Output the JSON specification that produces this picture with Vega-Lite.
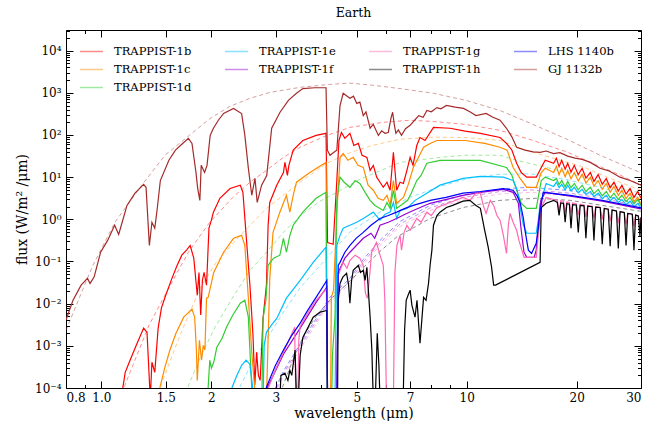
{
  "$schema": "https://vega.github.io/schema/vega-lite/v6.json",
  "width": 575,
  "height": 358,
  "autosize": {"type": "none"},
  "padding": {"left": 66, "top": 30, "right": 31, "bottom": 42},
  "title": {"text": "Earth", "font": "DejaVu Serif", "fontSize": 12.5, "fontWeight": "normal", "color": "black", "offset": 10},
  "config": {
    "view": {"stroke": "black", "strokeWidth": 1},
    "axis": {
      "domain": false, "grid": false, "tickColor": "black", "tickWidth": 1,
      "labelFont": "DejaVu Serif", "labelFontSize": 12, "labelColor": "black",
      "titleFont": "DejaVu Serif", "titleFontSize": 14, "titleFontWeight": "normal", "titleColor": "black"
    },
    "legend": {
      "orient": "none", "legendX": 13, "legendY": 9, "columns": 4, "title": null, "symbolType": "stroke",
      "symbolSize": 529, "symbolStrokeWidth": 1.5, "labelFont": "DejaVu Serif", "labelFontSize": 11.5, "labelColor": "black",
      "labelOffset": 10, "columnPadding": 30, "rowPadding": -4, "labelLimit": 200
    }
  },
  "datasets": {
    "spectra": [
      {"planet":"TRAPPIST-1b","wl":1.13,"logF":-4.3},{"planet":"TRAPPIST-1b","wl":1.162,"logF":-3.63},{"planet":"TRAPPIST-1b","wl":1.198,"logF":-3.34},{"planet":"TRAPPIST-1b","wl":1.245,"logF":-2.99},{"planet":"TRAPPIST-1b","wl":1.305,"logF":-2.58},{"planet":"TRAPPIST-1b","wl":1.333,"logF":-2.68},{"planet":"TRAPPIST-1b","wl":1.355,"logF":-3.93},{"planet":"TRAPPIST-1b","wl":1.36,"logF":-4.3},{"planet":"TRAPPIST-1b","wl":1.375,"logF":-3.39},{"planet":"TRAPPIST-1b","wl":1.4,"logF":-3.63},{"planet":"TRAPPIST-1b","wl":1.415,"logF":-3.1},{"planet":"TRAPPIST-1b","wl":1.43,"logF":-2.58},{"planet":"TRAPPIST-1b","wl":1.46,"logF":-2.1},{"planet":"TRAPPIST-1b","wl":1.5,"logF":-1.8},{"planet":"TRAPPIST-1b","wl":1.56,"logF":-1.4},{"planet":"TRAPPIST-1b","wl":1.61,"logF":-1.1},{"planet":"TRAPPIST-1b","wl":1.66,"logF":-0.85},{"planet":"TRAPPIST-1b","wl":1.71,"logF":-0.73},{"planet":"TRAPPIST-1b","wl":1.75,"logF":-0.62},{"planet":"TRAPPIST-1b","wl":1.79,"logF":-0.92},{"planet":"TRAPPIST-1b","wl":1.83,"logF":-1.8},{"planet":"TRAPPIST-1b","wl":1.85,"logF":-1.26},{"planet":"TRAPPIST-1b","wl":1.87,"logF":-2.27},{"planet":"TRAPPIST-1b","wl":1.89,"logF":-1.45},{"planet":"TRAPPIST-1b","wl":1.91,"logF":-1.26},{"planet":"TRAPPIST-1b","wl":1.94,"logF":-1.56},{"planet":"TRAPPIST-1b","wl":1.97,"logF":-0.21},{"planet":"TRAPPIST-1b","wl":2.0,"logF":-0.02},{"planet":"TRAPPIST-1b","wl":2.026,"logF":0.17},{"planet":"TRAPPIST-1b","wl":2.11,"logF":0.5},{"planet":"TRAPPIST-1b","wl":2.25,"logF":0.73},{"planet":"TRAPPIST-1b","wl":2.4,"logF":0.81},{"planet":"TRAPPIST-1b","wl":2.44,"logF":0.64},{"planet":"TRAPPIST-1b","wl":2.49,"logF":-0.38},{"planet":"TRAPPIST-1b","wl":2.55,"logF":-1.56},{"planet":"TRAPPIST-1b","wl":2.6,"logF":-2.75},{"planet":"TRAPPIST-1b","wl":2.63,"logF":-3.93},{"planet":"TRAPPIST-1b","wl":2.66,"logF":-3.15},{"planet":"TRAPPIST-1b","wl":2.69,"logF":-3.7},{"planet":"TRAPPIST-1b","wl":2.72,"logF":-3.82},{"planet":"TRAPPIST-1b","wl":2.77,"logF":-2.35},{"planet":"TRAPPIST-1b","wl":2.83,"logF":-1.56},{"planet":"TRAPPIST-1b","wl":2.86,"logF":-0.14},{"planet":"TRAPPIST-1b","wl":2.89,"logF":0.4},{"planet":"TRAPPIST-1b","wl":3.02,"logF":0.81},{"planet":"TRAPPIST-1b","wl":3.15,"logF":1.11},{"planet":"TRAPPIST-1b","wl":3.18,"logF":1.35},{"planet":"TRAPPIST-1b","wl":3.23,"logF":1.04},{"planet":"TRAPPIST-1b","wl":3.26,"logF":1.28},{"planet":"TRAPPIST-1b","wl":3.35,"logF":1.64},{"planet":"TRAPPIST-1b","wl":3.56,"logF":1.87},{"planet":"TRAPPIST-1b","wl":3.87,"logF":1.99},{"planet":"TRAPPIST-1b","wl":4.12,"logF":2.04},{"planet":"TRAPPIST-1b","wl":4.16,"logF":-0.55},{"planet":"TRAPPIST-1b","wl":4.31,"logF":-0.59},{"planet":"TRAPPIST-1b","wl":4.41,"logF":0.92},{"planet":"TRAPPIST-1b","wl":4.47,"logF":1.87},{"planet":"TRAPPIST-1b","wl":4.54,"logF":2.06},{"planet":"TRAPPIST-1b","wl":4.64,"logF":1.92},{"planet":"TRAPPIST-1b","wl":4.79,"logF":2.04},{"planet":"TRAPPIST-1b","wl":4.91,"logF":1.75},{"planet":"TRAPPIST-1b","wl":5.05,"logF":1.8},{"planet":"TRAPPIST-1b","wl":5.17,"logF":1.52},{"planet":"TRAPPIST-1b","wl":5.33,"logF":1.47},{"planet":"TRAPPIST-1b","wl":5.44,"logF":1.16},{"planet":"TRAPPIST-1b","wl":5.55,"logF":1.28},{"planet":"TRAPPIST-1b","wl":5.67,"logF":1.0},{"planet":"TRAPPIST-1b","wl":5.79,"logF":0.88},{"planet":"TRAPPIST-1b","wl":5.91,"logF":0.76},{"planet":"TRAPPIST-1b","wl":6.05,"logF":0.88},{"planet":"TRAPPIST-1b","wl":6.17,"logF":0.69},{"planet":"TRAPPIST-1b","wl":6.3,"logF":1.59},{"planet":"TRAPPIST-1b","wl":6.43,"logF":0.69},{"planet":"TRAPPIST-1b","wl":6.57,"logF":0.88},{"planet":"TRAPPIST-1b","wl":6.71,"logF":0.85},{"planet":"TRAPPIST-1b","wl":6.86,"logF":1.16},{"planet":"TRAPPIST-1b","wl":7.0,"logF":1.47},{"planet":"TRAPPIST-1b","wl":7.13,"logF":1.28},{"planet":"TRAPPIST-1b","wl":7.3,"logF":1.75},{"planet":"TRAPPIST-1b","wl":7.45,"logF":1.94},{"planet":"TRAPPIST-1b","wl":7.69,"logF":1.87},{"planet":"TRAPPIST-1b","wl":8.11,"logF":2.18},{"planet":"TRAPPIST-1b","wl":9.0,"logF":2.16},{"planet":"TRAPPIST-1b","wl":9.9,"logF":2.09},{"planet":"TRAPPIST-1b","wl":10.9,"logF":2.04},{"planet":"TRAPPIST-1b","wl":12.34,"logF":1.94},{"planet":"TRAPPIST-1b","wl":12.85,"logF":1.8},{"planet":"TRAPPIST-1b","wl":13.3,"logF":1.64},{"planet":"TRAPPIST-1b","wl":13.7,"logF":1.33},{"planet":"TRAPPIST-1b","wl":14.1,"logF":1.11},{"planet":"TRAPPIST-1b","wl":14.6,"logF":1.0},{"planet":"TRAPPIST-1b","wl":15.5,"logF":1.0},{"planet":"TRAPPIST-1b","wl":16.0,"logF":1.23},{"planet":"TRAPPIST-1b","wl":16.4,"logF":1.4},{"planet":"TRAPPIST-1b","wl":17.3,"logF":1.33},{"planet":"TRAPPIST-1b","wl":17.6,"logF":1.45},{"planet":"TRAPPIST-1b","wl":17.9,"logF":1.25},{"planet":"TRAPPIST-1b","wl":18.2,"logF":1.4},{"planet":"TRAPPIST-1b","wl":18.6,"logF":1.19},{"planet":"TRAPPIST-1b","wl":18.9,"logF":1.33},{"planet":"TRAPPIST-1b","wl":19.3,"logF":1.12},{"planet":"TRAPPIST-1b","wl":19.7,"logF":1.28},{"planet":"TRAPPIST-1b","wl":20.2,"logF":1.06},{"planet":"TRAPPIST-1b","wl":20.7,"logF":1.21},{"planet":"TRAPPIST-1b","wl":21.2,"logF":0.98},{"planet":"TRAPPIST-1b","wl":21.8,"logF":1.11},{"planet":"TRAPPIST-1b","wl":22.3,"logF":0.9},{"planet":"TRAPPIST-1b","wl":22.9,"logF":1.06},{"planet":"TRAPPIST-1b","wl":23.5,"logF":0.83},{"planet":"TRAPPIST-1b","wl":24.1,"logF":0.97},{"planet":"TRAPPIST-1b","wl":24.7,"logF":0.75},{"planet":"TRAPPIST-1b","wl":25.3,"logF":0.88},{"planet":"TRAPPIST-1b","wl":26.0,"logF":0.67},{"planet":"TRAPPIST-1b","wl":26.6,"logF":0.81},{"planet":"TRAPPIST-1b","wl":27.3,"logF":0.6},{"planet":"TRAPPIST-1b","wl":28.0,"logF":0.73},{"planet":"TRAPPIST-1b","wl":28.7,"logF":0.52},{"planet":"TRAPPIST-1b","wl":29.4,"logF":0.66},{"planet":"TRAPPIST-1b","wl":30,"logF":0.5},

      {"planet":"TRAPPIST-1c","wl":1.44,"logF":-4.3},{"planet":"TRAPPIST-1c","wl":1.447,"logF":-3.98},{"planet":"TRAPPIST-1c","wl":1.49,"logF":-3.53},{"planet":"TRAPPIST-1c","wl":1.54,"logF":-3.1},{"planet":"TRAPPIST-1c","wl":1.6,"logF":-2.7},{"planet":"TRAPPIST-1c","wl":1.68,"logF":-2.32},{"planet":"TRAPPIST-1c","wl":1.77,"logF":-2.13},{"planet":"TRAPPIST-1c","wl":1.8,"logF":-2.32},{"planet":"TRAPPIST-1c","wl":1.82,"logF":-3.1},{"planet":"TRAPPIST-1c","wl":1.83,"logF":-3.82},{"planet":"TRAPPIST-1c","wl":1.855,"logF":-2.87},{"planet":"TRAPPIST-1c","wl":1.88,"logF":-3.34},{"planet":"TRAPPIST-1c","wl":1.9,"logF":-2.99},{"planet":"TRAPPIST-1c","wl":1.92,"logF":-3.1},{"planet":"TRAPPIST-1c","wl":1.94,"logF":-1.87},{"planet":"TRAPPIST-1c","wl":1.96,"logF":-1.85},{"planet":"TRAPPIST-1c","wl":2.03,"logF":-1.26},{"planet":"TRAPPIST-1c","wl":2.16,"logF":-0.78},{"planet":"TRAPPIST-1c","wl":2.3,"logF":-0.45},{"planet":"TRAPPIST-1c","wl":2.42,"logF":-0.38},{"planet":"TRAPPIST-1c","wl":2.47,"logF":-0.62},{"planet":"TRAPPIST-1c","wl":2.525,"logF":-1.87},{"planet":"TRAPPIST-1c","wl":2.58,"logF":-3.15},{"planet":"TRAPPIST-1c","wl":2.63,"logF":-4.05},{"planet":"TRAPPIST-1c","wl":2.69,"logF":-4.3},{"planet":"TRAPPIST-1c","wl":2.83,"logF":-4.3},{"planet":"TRAPPIST-1c","wl":2.89,"logF":-1.4},{"planet":"TRAPPIST-1c","wl":2.95,"logF":-0.31},{"planet":"TRAPPIST-1c","wl":3.08,"logF":0.17},{"planet":"TRAPPIST-1c","wl":3.21,"logF":0.57},{"planet":"TRAPPIST-1c","wl":3.28,"logF":0.17},{"planet":"TRAPPIST-1c","wl":3.35,"logF":0.57},{"planet":"TRAPPIST-1c","wl":3.42,"logF":0.88},{"planet":"TRAPPIST-1c","wl":3.72,"logF":1.11},{"planet":"TRAPPIST-1c","wl":4.12,"logF":1.35},{"planet":"TRAPPIST-1c","wl":4.155,"logF":-4.3},{"planet":"TRAPPIST-1c","wl":4.24,"logF":-4.3},{"planet":"TRAPPIST-1c","wl":4.26,"logF":-1.85},{"planet":"TRAPPIST-1c","wl":4.32,"logF":-1.68},{"planet":"TRAPPIST-1c","wl":4.41,"logF":0.14},{"planet":"TRAPPIST-1c","wl":4.5,"logF":1.47},{"planet":"TRAPPIST-1c","wl":4.59,"logF":1.56},{"planet":"TRAPPIST-1c","wl":4.73,"logF":1.4},{"planet":"TRAPPIST-1c","wl":4.89,"logF":1.47},{"planet":"TRAPPIST-1c","wl":5.04,"logF":1.28},{"planet":"TRAPPIST-1c","wl":5.21,"logF":1.23},{"planet":"TRAPPIST-1c","wl":5.37,"logF":0.81},{"planet":"TRAPPIST-1c","wl":5.55,"logF":0.69},{"planet":"TRAPPIST-1c","wl":5.72,"logF":0.5},{"planet":"TRAPPIST-1c","wl":5.91,"logF":0.45},{"planet":"TRAPPIST-1c","wl":6.05,"logF":0.57},{"planet":"TRAPPIST-1c","wl":6.17,"logF":0.33},{"planet":"TRAPPIST-1c","wl":6.3,"logF":0.92},{"planet":"TRAPPIST-1c","wl":6.43,"logF":0.38},{"planet":"TRAPPIST-1c","wl":6.71,"logF":0.52},{"planet":"TRAPPIST-1c","wl":6.91,"logF":0.81},{"planet":"TRAPPIST-1c","wl":7.14,"logF":1.23},{"planet":"TRAPPIST-1c","wl":7.36,"logF":1.45},{"planet":"TRAPPIST-1c","wl":7.62,"logF":1.71},{"planet":"TRAPPIST-1c","wl":7.94,"logF":1.8},{"planet":"TRAPPIST-1c","wl":8.28,"logF":1.87},{"planet":"TRAPPIST-1c","wl":9.9,"logF":1.87},{"planet":"TRAPPIST-1c","wl":11.2,"logF":1.8},{"planet":"TRAPPIST-1c","wl":12.34,"logF":1.71},{"planet":"TRAPPIST-1c","wl":12.9,"logF":1.64},{"planet":"TRAPPIST-1c","wl":13.4,"logF":1.23},{"planet":"TRAPPIST-1c","wl":14.0,"logF":0.97},{"planet":"TRAPPIST-1c","wl":14.6,"logF":0.76},{"planet":"TRAPPIST-1c","wl":15.5,"logF":0.76},{"planet":"TRAPPIST-1c","wl":16.0,"logF":1.11},{"planet":"TRAPPIST-1c","wl":16.4,"logF":1.21},{"planet":"TRAPPIST-1c","wl":17.3,"logF":1.11},{"planet":"TRAPPIST-1c","wl":17.6,"logF":1.26},{"planet":"TRAPPIST-1c","wl":17.9,"logF":1.06},{"planet":"TRAPPIST-1c","wl":18.2,"logF":1.21},{"planet":"TRAPPIST-1c","wl":18.6,"logF":1.01},{"planet":"TRAPPIST-1c","wl":18.9,"logF":1.16},{"planet":"TRAPPIST-1c","wl":19.3,"logF":0.96},{"planet":"TRAPPIST-1c","wl":19.7,"logF":1.11},{"planet":"TRAPPIST-1c","wl":20.2,"logF":0.91},{"planet":"TRAPPIST-1c","wl":20.7,"logF":1.07},{"planet":"TRAPPIST-1c","wl":21.2,"logF":0.86},{"planet":"TRAPPIST-1c","wl":21.8,"logF":1.0},{"planet":"TRAPPIST-1c","wl":22.3,"logF":0.79},{"planet":"TRAPPIST-1c","wl":22.9,"logF":0.92},{"planet":"TRAPPIST-1c","wl":23.5,"logF":0.71},{"planet":"TRAPPIST-1c","wl":24.1,"logF":0.85},{"planet":"TRAPPIST-1c","wl":24.7,"logF":0.64},{"planet":"TRAPPIST-1c","wl":25.3,"logF":0.78},{"planet":"TRAPPIST-1c","wl":26.0,"logF":0.57},{"planet":"TRAPPIST-1c","wl":26.6,"logF":0.69},{"planet":"TRAPPIST-1c","wl":27.3,"logF":0.49},{"planet":"TRAPPIST-1c","wl":28.0,"logF":0.62},{"planet":"TRAPPIST-1c","wl":28.7,"logF":0.42},{"planet":"TRAPPIST-1c","wl":29.4,"logF":0.52},{"planet":"TRAPPIST-1c","wl":30,"logF":0.36},

      {"planet":"TRAPPIST-1d","wl":1.95,"logF":-4.3},{"planet":"TRAPPIST-1d","wl":1.96,"logF":-3.98},{"planet":"TRAPPIST-1d","wl":1.98,"logF":-3.34},{"planet":"TRAPPIST-1d","wl":2.0,"logF":-3.53},{"planet":"TRAPPIST-1d","wl":2.03,"logF":-3.39},{"planet":"TRAPPIST-1d","wl":2.07,"logF":-3.03},{"planet":"TRAPPIST-1d","wl":2.14,"logF":-2.82},{"planet":"TRAPPIST-1d","wl":2.2,"logF":-2.56},{"planet":"TRAPPIST-1d","wl":2.29,"logF":-2.27},{"planet":"TRAPPIST-1d","wl":2.4,"logF":-1.99},{"planet":"TRAPPIST-1d","wl":2.47,"logF":-1.92},{"planet":"TRAPPIST-1d","wl":2.525,"logF":-2.32},{"planet":"TRAPPIST-1d","wl":2.55,"logF":-3.1},{"planet":"TRAPPIST-1d","wl":2.59,"logF":-4.3},{"planet":"TRAPPIST-1d","wl":2.75,"logF":-4.3},{"planet":"TRAPPIST-1d","wl":2.77,"logF":-2.35},{"planet":"TRAPPIST-1d","wl":2.82,"logF":-1.92},{"planet":"TRAPPIST-1d","wl":2.86,"logF":-1.09},{"planet":"TRAPPIST-1d","wl":2.96,"logF":-0.92},{"planet":"TRAPPIST-1d","wl":3.08,"logF":-0.85},{"planet":"TRAPPIST-1d","wl":3.15,"logF":-0.45},{"planet":"TRAPPIST-1d","wl":3.21,"logF":-0.78},{"planet":"TRAPPIST-1d","wl":3.28,"logF":-0.38},{"planet":"TRAPPIST-1d","wl":3.35,"logF":-0.14},{"planet":"TRAPPIST-1d","wl":3.56,"logF":0.17},{"planet":"TRAPPIST-1d","wl":3.87,"logF":0.5},{"planet":"TRAPPIST-1d","wl":4.12,"logF":0.64},{"planet":"TRAPPIST-1d","wl":4.155,"logF":-4.3},{"planet":"TRAPPIST-1d","wl":4.27,"logF":-4.3},{"planet":"TRAPPIST-1d","wl":4.29,"logF":-3.22},{"planet":"TRAPPIST-1d","wl":4.36,"logF":-2.32},{"planet":"TRAPPIST-1d","wl":4.41,"logF":0.45},{"planet":"TRAPPIST-1d","wl":4.5,"logF":1.0},{"planet":"TRAPPIST-1d","wl":4.62,"logF":0.88},{"planet":"TRAPPIST-1d","wl":4.79,"logF":0.76},{"planet":"TRAPPIST-1d","wl":4.95,"logF":0.92},{"planet":"TRAPPIST-1d","wl":5.1,"logF":0.85},{"planet":"TRAPPIST-1d","wl":5.27,"logF":0.64},{"planet":"TRAPPIST-1d","wl":5.44,"logF":0.45},{"planet":"TRAPPIST-1d","wl":5.61,"logF":0.33},{"planet":"TRAPPIST-1d","wl":5.91,"logF":0.21},{"planet":"TRAPPIST-1d","wl":6.05,"logF":0.4},{"planet":"TRAPPIST-1d","wl":6.17,"logF":0.26},{"planet":"TRAPPIST-1d","wl":6.3,"logF":0.69},{"planet":"TRAPPIST-1d","wl":6.43,"logF":0.26},{"planet":"TRAPPIST-1d","wl":6.89,"logF":0.45},{"planet":"TRAPPIST-1d","wl":7.05,"logF":0.62},{"planet":"TRAPPIST-1d","wl":7.3,"logF":0.92},{"planet":"TRAPPIST-1d","wl":7.5,"logF":1.04},{"planet":"TRAPPIST-1d","wl":7.78,"logF":1.33},{"planet":"TRAPPIST-1d","wl":8.45,"logF":1.4},{"planet":"TRAPPIST-1d","wl":10.9,"logF":1.4},{"planet":"TRAPPIST-1d","wl":12.85,"logF":1.23},{"planet":"TRAPPIST-1d","wl":13.3,"logF":1.04},{"planet":"TRAPPIST-1d","wl":13.7,"logF":0.69},{"planet":"TRAPPIST-1d","wl":14.1,"logF":0.38},{"planet":"TRAPPIST-1d","wl":14.6,"logF":0.26},{"planet":"TRAPPIST-1d","wl":15.5,"logF":0.26},{"planet":"TRAPPIST-1d","wl":16.0,"logF":0.92},{"planet":"TRAPPIST-1d","wl":16.4,"logF":1.0},{"planet":"TRAPPIST-1d","wl":17.3,"logF":0.92},{"planet":"TRAPPIST-1d","wl":17.6,"logF":0.97},{"planet":"TRAPPIST-1d","wl":17.9,"logF":0.82},{"planet":"TRAPPIST-1d","wl":18.2,"logF":0.92},{"planet":"TRAPPIST-1d","wl":18.6,"logF":0.77},{"planet":"TRAPPIST-1d","wl":18.9,"logF":0.9},{"planet":"TRAPPIST-1d","wl":19.3,"logF":0.75},{"planet":"TRAPPIST-1d","wl":19.7,"logF":0.85},{"planet":"TRAPPIST-1d","wl":20.2,"logF":0.7},{"planet":"TRAPPIST-1d","wl":20.7,"logF":0.81},{"planet":"TRAPPIST-1d","wl":21.2,"logF":0.66},{"planet":"TRAPPIST-1d","wl":21.8,"logF":0.76},{"planet":"TRAPPIST-1d","wl":22.3,"logF":0.61},{"planet":"TRAPPIST-1d","wl":22.9,"logF":0.71},{"planet":"TRAPPIST-1d","wl":23.5,"logF":0.56},{"planet":"TRAPPIST-1d","wl":24.1,"logF":0.66},{"planet":"TRAPPIST-1d","wl":24.7,"logF":0.51},{"planet":"TRAPPIST-1d","wl":25.3,"logF":0.62},{"planet":"TRAPPIST-1d","wl":26.0,"logF":0.47},{"planet":"TRAPPIST-1d","wl":26.6,"logF":0.57},{"planet":"TRAPPIST-1d","wl":27.3,"logF":0.42},{"planet":"TRAPPIST-1d","wl":28.0,"logF":0.52},{"planet":"TRAPPIST-1d","wl":28.7,"logF":0.37},{"planet":"TRAPPIST-1d","wl":29.4,"logF":0.47},{"planet":"TRAPPIST-1d","wl":30,"logF":0.32},

      {"planet":"TRAPPIST-1e","wl":2.27,"logF":-4.3},{"planet":"TRAPPIST-1e","wl":2.28,"logF":-3.98},{"planet":"TRAPPIST-1e","wl":2.35,"logF":-3.7},{"planet":"TRAPPIST-1e","wl":2.42,"logF":-3.46},{"planet":"TRAPPIST-1e","wl":2.49,"logF":-3.34},{"planet":"TRAPPIST-1e","wl":2.55,"logF":-3.44},{"planet":"TRAPPIST-1e","wl":2.59,"logF":-3.93},{"planet":"TRAPPIST-1e","wl":2.61,"logF":-4.3},{"planet":"TRAPPIST-1e","wl":2.77,"logF":-4.3},{"planet":"TRAPPIST-1e","wl":2.79,"logF":-2.99},{"planet":"TRAPPIST-1e","wl":2.83,"logF":-2.68},{"planet":"TRAPPIST-1e","wl":2.92,"logF":-2.51},{"planet":"TRAPPIST-1e","wl":3.02,"logF":-2.35},{"planet":"TRAPPIST-1e","wl":3.21,"logF":-1.87},{"planet":"TRAPPIST-1e","wl":3.5,"logF":-1.45},{"planet":"TRAPPIST-1e","wl":3.8,"logF":-1.02},{"planet":"TRAPPIST-1e","wl":4.12,"logF":-0.66},{"planet":"TRAPPIST-1e","wl":4.155,"logF":-4.3},{"planet":"TRAPPIST-1e","wl":4.36,"logF":-4.3},{"planet":"TRAPPIST-1e","wl":4.41,"logF":-0.62},{"planet":"TRAPPIST-1e","wl":4.5,"logF":-0.38},{"planet":"TRAPPIST-1e","wl":4.59,"logF":-0.21},{"planet":"TRAPPIST-1e","wl":4.79,"logF":-0.14},{"planet":"TRAPPIST-1e","wl":5.0,"logF":-0.07},{"planet":"TRAPPIST-1e","wl":5.21,"logF":0.02},{"planet":"TRAPPIST-1e","wl":5.37,"logF":0.09},{"planet":"TRAPPIST-1e","wl":5.55,"logF":0.17},{"planet":"TRAPPIST-1e","wl":5.79,"logF":-0.02},{"planet":"TRAPPIST-1e","wl":5.98,"logF":0.12},{"planet":"TRAPPIST-1e","wl":6.17,"logF":0.17},{"planet":"TRAPPIST-1e","wl":6.3,"logF":0.4},{"planet":"TRAPPIST-1e","wl":6.43,"logF":0.02},{"planet":"TRAPPIST-1e","wl":6.57,"logF":0.21},{"planet":"TRAPPIST-1e","wl":6.86,"logF":0.26},{"planet":"TRAPPIST-1e","wl":7.22,"logF":0.45},{"planet":"TRAPPIST-1e","wl":7.62,"logF":0.57},{"planet":"TRAPPIST-1e","wl":8.45,"logF":0.81},{"planet":"TRAPPIST-1e","wl":9.77,"logF":0.97},{"planet":"TRAPPIST-1e","wl":10.9,"logF":1.02},{"planet":"TRAPPIST-1e","wl":12.6,"logF":1.0},{"planet":"TRAPPIST-1e","wl":13.4,"logF":0.92},{"planet":"TRAPPIST-1e","wl":13.75,"logF":0.69},{"planet":"TRAPPIST-1e","wl":14.0,"logF":0.28},{"planet":"TRAPPIST-1e","wl":14.3,"logF":-0.14},{"planet":"TRAPPIST-1e","wl":14.6,"logF":-0.33},{"planet":"TRAPPIST-1e","wl":15.5,"logF":-0.33},{"planet":"TRAPPIST-1e","wl":15.7,"logF":-0.02},{"planet":"TRAPPIST-1e","wl":15.9,"logF":0.38},{"planet":"TRAPPIST-1e","wl":16.5,"logF":0.85},{"planet":"TRAPPIST-1e","wl":17.3,"logF":0.78},{"planet":"TRAPPIST-1e","wl":17.6,"logF":0.88},{"planet":"TRAPPIST-1e","wl":17.9,"logF":0.75},{"planet":"TRAPPIST-1e","wl":18.2,"logF":0.83},{"planet":"TRAPPIST-1e","wl":18.6,"logF":0.7},{"planet":"TRAPPIST-1e","wl":18.9,"logF":0.81},{"planet":"TRAPPIST-1e","wl":19.3,"logF":0.68},{"planet":"TRAPPIST-1e","wl":19.7,"logF":0.76},{"planet":"TRAPPIST-1e","wl":20.2,"logF":0.63},{"planet":"TRAPPIST-1e","wl":20.7,"logF":0.71},{"planet":"TRAPPIST-1e","wl":21.2,"logF":0.59},{"planet":"TRAPPIST-1e","wl":21.8,"logF":0.66},{"planet":"TRAPPIST-1e","wl":22.3,"logF":0.54},{"planet":"TRAPPIST-1e","wl":22.9,"logF":0.62},{"planet":"TRAPPIST-1e","wl":23.5,"logF":0.49},{"planet":"TRAPPIST-1e","wl":24.1,"logF":0.57},{"planet":"TRAPPIST-1e","wl":24.7,"logF":0.44},{"planet":"TRAPPIST-1e","wl":25.3,"logF":0.52},{"planet":"TRAPPIST-1e","wl":26.0,"logF":0.4},{"planet":"TRAPPIST-1e","wl":26.6,"logF":0.47},{"planet":"TRAPPIST-1e","wl":27.3,"logF":0.35},{"planet":"TRAPPIST-1e","wl":28.0,"logF":0.43},{"planet":"TRAPPIST-1e","wl":28.7,"logF":0.3},{"planet":"TRAPPIST-1e","wl":29.4,"logF":0.38},{"planet":"TRAPPIST-1e","wl":30,"logF":0.26},

      {"planet":"TRAPPIST-1f","wl":2.81,"logF":-4.3},{"planet":"TRAPPIST-1f","wl":2.85,"logF":-3.98},{"planet":"TRAPPIST-1f","wl":3.15,"logF":-3.2},{"planet":"TRAPPIST-1f","wl":3.5,"logF":-2.58},{"planet":"TRAPPIST-1f","wl":3.87,"logF":-1.97},{"planet":"TRAPPIST-1f","wl":4.14,"logF":-1.61},{"planet":"TRAPPIST-1f","wl":4.16,"logF":-4.3},{"planet":"TRAPPIST-1f","wl":4.41,"logF":-4.3},{"planet":"TRAPPIST-1f","wl":4.45,"logF":-1.26},{"planet":"TRAPPIST-1f","wl":4.64,"logF":-0.92},{"planet":"TRAPPIST-1f","wl":4.79,"logF":-0.78},{"planet":"TRAPPIST-1f","wl":5.21,"logF":-0.45},{"planet":"TRAPPIST-1f","wl":5.47,"logF":-0.33},{"planet":"TRAPPIST-1f","wl":5.6,"logF":-0.45},{"planet":"TRAPPIST-1f","wl":5.79,"logF":-0.14},{"planet":"TRAPPIST-1f","wl":6.1,"logF":-0.07},{"planet":"TRAPPIST-1f","wl":6.43,"logF":0.02},{"planet":"TRAPPIST-1f","wl":6.78,"logF":0.12},{"planet":"TRAPPIST-1f","wl":7.14,"logF":0.21},{"planet":"TRAPPIST-1f","wl":7.94,"logF":0.38},{"planet":"TRAPPIST-1f","wl":9.77,"logF":0.57},{"planet":"TRAPPIST-1f","wl":10.9,"logF":0.64},{"planet":"TRAPPIST-1f","wl":12.6,"logF":0.71},{"planet":"TRAPPIST-1f","wl":13.4,"logF":0.64},{"planet":"TRAPPIST-1f","wl":13.85,"logF":0.38},{"planet":"TRAPPIST-1f","wl":14.1,"logF":-0.26},{"planet":"TRAPPIST-1f","wl":14.35,"logF":-0.78},{"planet":"TRAPPIST-1f","wl":14.6,"logF":-0.9},{"planet":"TRAPPIST-1f","wl":15.3,"logF":-0.9},{"planet":"TRAPPIST-1f","wl":15.5,"logF":-0.73},{"planet":"TRAPPIST-1f","wl":15.7,"logF":-0.14},{"planet":"TRAPPIST-1f","wl":15.95,"logF":0.45},{"planet":"TRAPPIST-1f","wl":16.4,"logF":0.64},{"planet":"TRAPPIST-1f","wl":19.2,"logF":0.55},{"planet":"TRAPPIST-1f","wl":23.5,"logF":0.43},{"planet":"TRAPPIST-1f","wl":30,"logF":0.25},

      {"planet":"TRAPPIST-1g","wl":2.81,"logF":-4.3},{"planet":"TRAPPIST-1g","wl":2.85,"logF":-4.05},{"planet":"TRAPPIST-1g","wl":2.99,"logF":-3.58},{"planet":"TRAPPIST-1g","wl":3.15,"logF":-3.15},{"planet":"TRAPPIST-1g","wl":3.28,"logF":-2.82},{"planet":"TRAPPIST-1g","wl":3.38,"logF":-2.56},{"planet":"TRAPPIST-1g","wl":3.4,"logF":-3.82},{"planet":"TRAPPIST-1g","wl":3.42,"logF":-4.3},{"planet":"TRAPPIST-1g","wl":3.45,"logF":-4.3},{"planet":"TRAPPIST-1g","wl":3.47,"logF":-2.87},{"planet":"TRAPPIST-1g","wl":3.5,"logF":-2.54},{"planet":"TRAPPIST-1g","wl":3.67,"logF":-2.23},{"planet":"TRAPPIST-1g","wl":3.87,"logF":-1.92},{"planet":"TRAPPIST-1g","wl":4.14,"logF":-1.64},{"planet":"TRAPPIST-1g","wl":4.16,"logF":-4.3},{"planet":"TRAPPIST-1g","wl":4.41,"logF":-4.3},{"planet":"TRAPPIST-1g","wl":4.45,"logF":-1.33},{"planet":"TRAPPIST-1g","wl":4.59,"logF":-1.02},{"planet":"TRAPPIST-1g","wl":4.7,"logF":-1.16},{"planet":"TRAPPIST-1g","wl":4.79,"logF":-0.97},{"planet":"TRAPPIST-1g","wl":4.95,"logF":-0.85},{"planet":"TRAPPIST-1g","wl":5.1,"logF":-0.92},{"planet":"TRAPPIST-1g","wl":5.21,"logF":-1.09},{"planet":"TRAPPIST-1g","wl":5.28,"logF":-1.75},{"planet":"TRAPPIST-1g","wl":5.35,"logF":-1.87},{"planet":"TRAPPIST-1g","wl":5.44,"logF":-1.21},{"planet":"TRAPPIST-1g","wl":5.49,"logF":-0.78},{"planet":"TRAPPIST-1g","wl":5.66,"logF":-0.55},{"planet":"TRAPPIST-1g","wl":5.79,"logF":-0.85},{"planet":"TRAPPIST-1g","wl":5.91,"logF":-1.09},{"planet":"TRAPPIST-1g","wl":5.97,"logF":-1.92},{"planet":"TRAPPIST-1g","wl":6.03,"logF":-4.3},{"planet":"TRAPPIST-1g","wl":6.3,"logF":-4.3},{"planet":"TRAPPIST-1g","wl":6.36,"logF":-1.26},{"planet":"TRAPPIST-1g","wl":6.44,"logF":-0.62},{"planet":"TRAPPIST-1g","wl":6.57,"logF":-0.38},{"planet":"TRAPPIST-1g","wl":6.63,"logF":-0.73},{"planet":"TRAPPIST-1g","wl":6.74,"logF":-0.31},{"planet":"TRAPPIST-1g","wl":6.86,"logF":-0.14},{"planet":"TRAPPIST-1g","wl":7.0,"logF":-0.26},{"planet":"TRAPPIST-1g","wl":7.3,"logF":0.02},{"planet":"TRAPPIST-1g","wl":7.5,"logF":-0.07},{"planet":"TRAPPIST-1g","wl":7.78,"logF":0.17},{"planet":"TRAPPIST-1g","wl":8.0,"logF":0.09},{"planet":"TRAPPIST-1g","wl":8.29,"logF":0.28},{"planet":"TRAPPIST-1g","wl":9.0,"logF":0.4},{"planet":"TRAPPIST-1g","wl":9.77,"logF":0.52},{"planet":"TRAPPIST-1g","wl":10.2,"logF":0.45},{"planet":"TRAPPIST-1g","wl":10.6,"logF":0.62},{"planet":"TRAPPIST-1g","wl":10.9,"logF":0.62},{"planet":"TRAPPIST-1g","wl":11.1,"logF":0.33},{"planet":"TRAPPIST-1g","wl":11.3,"logF":0.14},{"planet":"TRAPPIST-1g","wl":11.6,"logF":0.45},{"planet":"TRAPPIST-1g","wl":11.85,"logF":0.33},{"planet":"TRAPPIST-1g","wl":12.1,"logF":0.09},{"planet":"TRAPPIST-1g","wl":12.34,"logF":-0.02},{"planet":"TRAPPIST-1g","wl":12.6,"logF":-0.38},{"planet":"TRAPPIST-1g","wl":12.85,"logF":-0.81},{"planet":"TRAPPIST-1g","wl":13.0,"logF":-0.14},{"planet":"TRAPPIST-1g","wl":13.14,"logF":0.14},{"planet":"TRAPPIST-1g","wl":13.4,"logF":-0.07},{"planet":"TRAPPIST-1g","wl":13.7,"logF":-0.26},{"planet":"TRAPPIST-1g","wl":13.9,"logF":-0.5},{"planet":"TRAPPIST-1g","wl":14.35,"logF":-0.9},{"planet":"TRAPPIST-1g","wl":15.5,"logF":-0.9},{"planet":"TRAPPIST-1g","wl":15.7,"logF":-0.38},{"planet":"TRAPPIST-1g","wl":16.0,"logF":0.28},{"planet":"TRAPPIST-1g","wl":16.5,"logF":0.52},{"planet":"TRAPPIST-1g","wl":17.3,"logF":0.47},{"planet":"TRAPPIST-1g","wl":17.7,"logF":0.45},{"planet":"TRAPPIST-1g","wl":17.9,"logF":0.2},{"planet":"TRAPPIST-1g","wl":18.1,"logF":0.44},{"planet":"TRAPPIST-1g","wl":18.4,"logF":0.43},{"planet":"TRAPPIST-1g","wl":18.6,"logF":0.16},{"planet":"TRAPPIST-1g","wl":18.8,"logF":0.41},{"planet":"TRAPPIST-1g","wl":19.1,"logF":0.4},{"planet":"TRAPPIST-1g","wl":19.3,"logF":0.14},{"planet":"TRAPPIST-1g","wl":19.5,"logF":0.39},{"planet":"TRAPPIST-1g","wl":19.95,"logF":0.37},{"planet":"TRAPPIST-1g","wl":20.2,"logF":0.1},{"planet":"TRAPPIST-1g","wl":20.45,"logF":0.36},{"planet":"TRAPPIST-1g","wl":20.95,"logF":0.34},{"planet":"TRAPPIST-1g","wl":21.2,"logF":0.06},{"planet":"TRAPPIST-1g","wl":21.45,"logF":0.33},{"planet":"TRAPPIST-1g","wl":22.05,"logF":0.31},{"planet":"TRAPPIST-1g","wl":22.3,"logF":0.02},{"planet":"TRAPPIST-1g","wl":22.55,"logF":0.3},{"planet":"TRAPPIST-1g","wl":23.2,"logF":0.28},{"planet":"TRAPPIST-1g","wl":23.5,"logF":0.0},{"planet":"TRAPPIST-1g","wl":23.8,"logF":0.26},{"planet":"TRAPPIST-1g","wl":24.4,"logF":0.24},{"planet":"TRAPPIST-1g","wl":24.7,"logF":-0.05},{"planet":"TRAPPIST-1g","wl":25.0,"logF":0.22},{"planet":"TRAPPIST-1g","wl":25.7,"logF":0.2},{"planet":"TRAPPIST-1g","wl":26.0,"logF":-0.09},{"planet":"TRAPPIST-1g","wl":26.3,"logF":0.18},{"planet":"TRAPPIST-1g","wl":27.0,"logF":0.16},{"planet":"TRAPPIST-1g","wl":27.3,"logF":-0.12},{"planet":"TRAPPIST-1g","wl":27.6,"logF":0.14},{"planet":"TRAPPIST-1g","wl":28.4,"logF":0.12},{"planet":"TRAPPIST-1g","wl":28.7,"logF":-0.17},{"planet":"TRAPPIST-1g","wl":29.0,"logF":0.1},{"planet":"TRAPPIST-1g","wl":29.5,"logF":0.08},{"planet":"TRAPPIST-1g","wl":29.8,"logF":-0.15},{"planet":"TRAPPIST-1g","wl":30,"logF":0.05},

      {"planet":"TRAPPIST-1h","wl":3.08,"logF":-4.3},{"planet":"TRAPPIST-1h","wl":3.1,"logF":-3.7},{"planet":"TRAPPIST-1h","wl":3.18,"logF":-3.65},{"planet":"TRAPPIST-1h","wl":3.24,"logF":-3.82},{"planet":"TRAPPIST-1h","wl":3.28,"logF":-3.58},{"planet":"TRAPPIST-1h","wl":3.32,"logF":-3.7},{"planet":"TRAPPIST-1h","wl":3.39,"logF":-3.1},{"planet":"TRAPPIST-1h","wl":3.42,"logF":-4.3},{"planet":"TRAPPIST-1h","wl":3.46,"logF":-4.3},{"planet":"TRAPPIST-1h","wl":3.5,"logF":-3.22},{"planet":"TRAPPIST-1h","wl":3.56,"logF":-2.8},{"planet":"TRAPPIST-1h","wl":3.67,"logF":-2.58},{"planet":"TRAPPIST-1h","wl":3.8,"logF":-2.32},{"planet":"TRAPPIST-1h","wl":3.97,"logF":-2.2},{"planet":"TRAPPIST-1h","wl":4.14,"logF":-2.16},{"planet":"TRAPPIST-1h","wl":4.16,"logF":-4.3},{"planet":"TRAPPIST-1h","wl":4.43,"logF":-4.3},{"planet":"TRAPPIST-1h","wl":4.45,"logF":-1.92},{"planet":"TRAPPIST-1h","wl":4.5,"logF":-1.52},{"planet":"TRAPPIST-1h","wl":4.58,"logF":-1.37},{"planet":"TRAPPIST-1h","wl":4.69,"logF":-1.28},{"planet":"TRAPPIST-1h","wl":4.75,"logF":-1.56},{"planet":"TRAPPIST-1h","wl":4.79,"logF":-1.99},{"planet":"TRAPPIST-1h","wl":4.84,"logF":-1.45},{"planet":"TRAPPIST-1h","wl":4.89,"logF":-1.21},{"planet":"TRAPPIST-1h","wl":5.05,"logF":-1.09},{"planet":"TRAPPIST-1h","wl":5.12,"logF":-1.26},{"planet":"TRAPPIST-1h","wl":5.21,"logF":-1.21},{"planet":"TRAPPIST-1h","wl":5.27,"logF":-1.45},{"planet":"TRAPPIST-1h","wl":5.33,"logF":-1.14},{"planet":"TRAPPIST-1h","wl":5.38,"logF":-1.68},{"planet":"TRAPPIST-1h","wl":5.44,"logF":-2.32},{"planet":"TRAPPIST-1h","wl":5.5,"logF":-3.1},{"planet":"TRAPPIST-1h","wl":5.55,"logF":-4.3},{"planet":"TRAPPIST-1h","wl":5.62,"logF":-4.3},{"planet":"TRAPPIST-1h","wl":5.69,"logF":-2.7},{"planet":"TRAPPIST-1h","wl":5.75,"logF":-3.46},{"planet":"TRAPPIST-1h","wl":5.79,"logF":-4.3},{"planet":"TRAPPIST-1h","wl":6.7,"logF":-4.3},{"planet":"TRAPPIST-1h","wl":6.76,"logF":-2.63},{"planet":"TRAPPIST-1h","wl":6.83,"logF":-1.92},{"planet":"TRAPPIST-1h","wl":6.91,"logF":-1.8},{"planet":"TRAPPIST-1h","wl":7.0,"logF":-1.68},{"planet":"TRAPPIST-1h","wl":7.08,"logF":-2.04},{"planet":"TRAPPIST-1h","wl":7.22,"logF":-2.32},{"planet":"TRAPPIST-1h","wl":7.31,"logF":-1.92},{"planet":"TRAPPIST-1h","wl":7.45,"logF":-2.94},{"planet":"TRAPPIST-1h","wl":7.62,"logF":-1.85},{"planet":"TRAPPIST-1h","wl":7.74,"logF":-1.92},{"planet":"TRAPPIST-1h","wl":7.86,"logF":-1.52},{"planet":"TRAPPIST-1h","wl":7.94,"logF":-1.09},{"planet":"TRAPPIST-1h","wl":8.03,"logF":-0.73},{"planet":"TRAPPIST-1h","wl":8.11,"logF":-0.14},{"planet":"TRAPPIST-1h","wl":8.29,"logF":0.09},{"planet":"TRAPPIST-1h","wl":8.45,"logF":0.17},{"planet":"TRAPPIST-1h","wl":8.8,"logF":0.28},{"planet":"TRAPPIST-1h","wl":9.15,"logF":0.33},{"planet":"TRAPPIST-1h","wl":9.77,"logF":0.43},{"planet":"TRAPPIST-1h","wl":10.2,"logF":0.45},{"planet":"TRAPPIST-1h","wl":10.6,"logF":0.33},{"planet":"TRAPPIST-1h","wl":10.9,"logF":0.26},{"planet":"TRAPPIST-1h","wl":11.2,"logF":-0.26},{"planet":"TRAPPIST-1h","wl":11.45,"logF":-0.66},{"planet":"TRAPPIST-1h","wl":11.7,"logF":-1.14},{"planet":"TRAPPIST-1h","wl":11.85,"logF":-1.56},{"planet":"TRAPPIST-1h","wl":12.0,"logF":-1.56},{"planet":"TRAPPIST-1h","wl":15.88,"logF":-1.02},{"planet":"TRAPPIST-1h","wl":16.0,"logF":0.28},{"planet":"TRAPPIST-1h","wl":16.5,"logF":0.38},{"planet":"TRAPPIST-1h","wl":17.3,"logF":0.45},{"planet":"TRAPPIST-1h","wl":17.7,"logF":0.4},{"planet":"TRAPPIST-1h","wl":17.9,"logF":0.09},{"planet":"TRAPPIST-1h","wl":18.1,"logF":0.39},{"planet":"TRAPPIST-1h","wl":18.4,"logF":0.38},{"planet":"TRAPPIST-1h","wl":18.6,"logF":-0.07},{"planet":"TRAPPIST-1h","wl":18.8,"logF":0.37},{"planet":"TRAPPIST-1h","wl":19.1,"logF":0.36},{"planet":"TRAPPIST-1h","wl":19.3,"logF":-0.21},{"planet":"TRAPPIST-1h","wl":19.5,"logF":0.35},{"planet":"TRAPPIST-1h","wl":19.95,"logF":0.34},{"planet":"TRAPPIST-1h","wl":20.2,"logF":-0.31},{"planet":"TRAPPIST-1h","wl":20.45,"logF":0.33},{"planet":"TRAPPIST-1h","wl":20.95,"logF":0.32},{"planet":"TRAPPIST-1h","wl":21.2,"logF":-0.45},{"planet":"TRAPPIST-1h","wl":21.45,"logF":0.31},{"planet":"TRAPPIST-1h","wl":22.05,"logF":0.3},{"planet":"TRAPPIST-1h","wl":22.3,"logF":-0.5},{"planet":"TRAPPIST-1h","wl":22.55,"logF":0.29},{"planet":"TRAPPIST-1h","wl":23.2,"logF":0.28},{"planet":"TRAPPIST-1h","wl":23.5,"logF":-0.59},{"planet":"TRAPPIST-1h","wl":23.8,"logF":0.26},{"planet":"TRAPPIST-1h","wl":24.4,"logF":0.24},{"planet":"TRAPPIST-1h","wl":24.7,"logF":-0.64},{"planet":"TRAPPIST-1h","wl":25.0,"logF":0.22},{"planet":"TRAPPIST-1h","wl":25.7,"logF":0.2},{"planet":"TRAPPIST-1h","wl":26.0,"logF":-0.69},{"planet":"TRAPPIST-1h","wl":26.3,"logF":0.18},{"planet":"TRAPPIST-1h","wl":27.0,"logF":0.16},{"planet":"TRAPPIST-1h","wl":27.3,"logF":-0.62},{"planet":"TRAPPIST-1h","wl":27.6,"logF":0.14},{"planet":"TRAPPIST-1h","wl":28.4,"logF":0.12},{"planet":"TRAPPIST-1h","wl":28.7,"logF":-0.73},{"planet":"TRAPPIST-1h","wl":29.0,"logF":0.1},{"planet":"TRAPPIST-1h","wl":29.5,"logF":0.08},{"planet":"TRAPPIST-1h","wl":29.8,"logF":-0.4},{"planet":"TRAPPIST-1h","wl":30,"logF":0.05},

      {"planet":"LHS 1140b","wl":2.8,"logF":-4.3},{"planet":"LHS 1140b","wl":2.83,"logF":-3.98},{"planet":"LHS 1140b","wl":2.99,"logF":-3.48},{"planet":"LHS 1140b","wl":3.15,"logF":-3.1},{"planet":"LHS 1140b","wl":3.31,"logF":-2.77},{"planet":"LHS 1140b","wl":3.5,"logF":-2.46},{"planet":"LHS 1140b","wl":3.67,"logF":-2.16},{"planet":"LHS 1140b","wl":3.87,"logF":-1.85},{"planet":"LHS 1140b","wl":4.14,"logF":-1.45},{"planet":"LHS 1140b","wl":4.16,"logF":-4.3},{"planet":"LHS 1140b","wl":4.41,"logF":-4.3},{"planet":"LHS 1140b","wl":4.45,"logF":-1.09},{"planet":"LHS 1140b","wl":4.5,"logF":-1.02},{"planet":"LHS 1140b","wl":4.64,"logF":-0.78},{"planet":"LHS 1140b","wl":4.79,"logF":-0.62},{"planet":"LHS 1140b","wl":4.98,"logF":-0.45},{"planet":"LHS 1140b","wl":5.21,"logF":-0.31},{"planet":"LHS 1140b","wl":5.47,"logF":-0.14},{"planet":"LHS 1140b","wl":5.79,"logF":0.02},{"planet":"LHS 1140b","wl":6.1,"logF":0.09},{"planet":"LHS 1140b","wl":6.43,"logF":0.17},{"planet":"LHS 1140b","wl":6.78,"logF":0.26},{"planet":"LHS 1140b","wl":7.14,"logF":0.33},{"planet":"LHS 1140b","wl":7.94,"logF":0.45},{"planet":"LHS 1140b","wl":8.78,"logF":0.52},{"planet":"LHS 1140b","wl":9.77,"logF":0.62},{"planet":"LHS 1140b","wl":10.9,"logF":0.66},{"planet":"LHS 1140b","wl":12.6,"logF":0.73},{"planet":"LHS 1140b","wl":13.4,"logF":0.69},{"planet":"LHS 1140b","wl":13.75,"logF":0.55},{"planet":"LHS 1140b","wl":14.0,"logF":0.4},{"planet":"LHS 1140b","wl":14.3,"logF":0.02},{"planet":"LHS 1140b","wl":14.44,"logF":-0.26},{"planet":"LHS 1140b","wl":14.75,"logF":-0.73},{"planet":"LHS 1140b","wl":15.05,"logF":-0.81},{"planet":"LHS 1140b","wl":15.5,"logF":-0.57},{"planet":"LHS 1140b","wl":15.7,"logF":-0.21},{"planet":"LHS 1140b","wl":15.85,"logF":0.14},{"planet":"LHS 1140b","wl":16.2,"logF":0.64},{"planet":"LHS 1140b","wl":16.9,"logF":0.62},{"planet":"LHS 1140b","wl":19.2,"logF":0.57},{"planet":"LHS 1140b","wl":23.5,"logF":0.45},{"planet":"LHS 1140b","wl":30,"logF":0.27},

      {"planet":"GJ 1132b","wl":0.8,"logF":-2.39},{"planet":"GJ 1132b","wl":0.836,"logF":-1.92},{"planet":"GJ 1132b","wl":0.88,"logF":-1.56},{"planet":"GJ 1132b","wl":0.916,"logF":-1.4},{"planet":"GJ 1132b","wl":0.931,"logF":-1.52},{"planet":"GJ 1132b","wl":0.955,"logF":-1.37},{"planet":"GJ 1132b","wl":0.995,"logF":-0.78},{"planet":"GJ 1132b","wl":1.04,"logF":-0.5},{"planet":"GJ 1132b","wl":1.087,"logF":-0.14},{"planet":"GJ 1132b","wl":1.115,"logF":-0.36},{"planet":"GJ 1132b","wl":1.14,"logF":-0.07},{"planet":"GJ 1132b","wl":1.175,"logF":0.33},{"planet":"GJ 1132b","wl":1.236,"logF":0.62},{"planet":"GJ 1132b","wl":1.305,"logF":0.83},{"planet":"GJ 1132b","wl":1.325,"logF":0.76},{"planet":"GJ 1132b","wl":1.353,"logF":-0.62},{"planet":"GJ 1132b","wl":1.375,"logF":-0.07},{"planet":"GJ 1132b","wl":1.4,"logF":-0.21},{"planet":"GJ 1132b","wl":1.42,"logF":0.21},{"planet":"GJ 1132b","wl":1.45,"logF":0.92},{"planet":"GJ 1132b","wl":1.53,"logF":1.4},{"planet":"GJ 1132b","wl":1.595,"logF":1.64},{"planet":"GJ 1132b","wl":1.66,"logF":1.78},{"planet":"GJ 1132b","wl":1.73,"logF":1.92},{"planet":"GJ 1132b","wl":1.77,"logF":1.8},{"planet":"GJ 1132b","wl":1.815,"logF":1.11},{"planet":"GJ 1132b","wl":1.835,"logF":0.73},{"planet":"GJ 1132b","wl":1.86,"logF":0.45},{"planet":"GJ 1132b","wl":1.876,"logF":1.28},{"planet":"GJ 1132b","wl":1.916,"logF":1.11},{"planet":"GJ 1132b","wl":1.946,"logF":1.28},{"planet":"GJ 1132b","wl":1.985,"logF":1.99},{"planet":"GJ 1132b","wl":2.026,"logF":2.16},{"planet":"GJ 1132b","wl":2.09,"logF":2.35},{"planet":"GJ 1132b","wl":2.16,"logF":2.51},{"planet":"GJ 1132b","wl":2.3,"logF":2.63},{"planet":"GJ 1132b","wl":2.42,"logF":2.51},{"planet":"GJ 1132b","wl":2.47,"logF":1.99},{"planet":"GJ 1132b","wl":2.525,"logF":1.21},{"planet":"GJ 1132b","wl":2.58,"logF":0.57},{"planet":"GJ 1132b","wl":2.633,"logF":0.97},{"planet":"GJ 1132b","wl":2.67,"logF":0.4},{"planet":"GJ 1132b","wl":2.745,"logF":0.81},{"planet":"GJ 1132b","wl":2.835,"logF":1.04},{"planet":"GJ 1132b","wl":2.925,"logF":2.16},{"planet":"GJ 1132b","wl":3.083,"logF":2.54},{"planet":"GJ 1132b","wl":3.25,"logF":2.82},{"planet":"GJ 1132b","wl":3.42,"logF":2.99},{"planet":"GJ 1132b","wl":3.56,"logF":3.1},{"planet":"GJ 1132b","wl":3.84,"logF":3.12},{"planet":"GJ 1132b","wl":4.12,"logF":3.12},{"planet":"GJ 1132b","wl":4.155,"logF":1.64},{"planet":"GJ 1132b","wl":4.225,"logF":1.52},{"planet":"GJ 1132b","wl":4.33,"logF":1.59},{"planet":"GJ 1132b","wl":4.41,"logF":1.64},{"planet":"GJ 1132b","wl":4.5,"logF":2.7},{"planet":"GJ 1132b","wl":4.59,"logF":2.99},{"planet":"GJ 1132b","wl":4.79,"logF":2.87},{"planet":"GJ 1132b","wl":4.9,"logF":2.92},{"planet":"GJ 1132b","wl":5.0,"logF":2.75},{"planet":"GJ 1132b","wl":5.1,"logF":2.78},{"planet":"GJ 1132b","wl":5.21,"logF":2.46},{"planet":"GJ 1132b","wl":5.3,"logF":2.55},{"planet":"GJ 1132b","wl":5.44,"logF":2.16},{"planet":"GJ 1132b","wl":5.55,"logF":2.25},{"planet":"GJ 1132b","wl":5.73,"logF":1.99},{"planet":"GJ 1132b","wl":5.85,"logF":2.1},{"planet":"GJ 1132b","wl":5.975,"logF":2.04},{"planet":"GJ 1132b","wl":6.1,"logF":2.06},{"planet":"GJ 1132b","wl":6.2,"logF":2.39},{"planet":"GJ 1132b","wl":6.27,"logF":2.54},{"planet":"GJ 1132b","wl":6.34,"logF":2.23},{"planet":"GJ 1132b","wl":6.4,"logF":2.04},{"planet":"GJ 1132b","wl":6.5,"logF":2.12},{"planet":"GJ 1132b","wl":6.63,"logF":1.99},{"planet":"GJ 1132b","wl":6.8,"logF":2.15},{"planet":"GJ 1132b","wl":7.0,"logF":2.23},{"planet":"GJ 1132b","wl":7.2,"logF":2.35},{"planet":"GJ 1132b","wl":7.39,"logF":2.46},{"planet":"GJ 1132b","wl":7.6,"logF":2.42},{"planet":"GJ 1132b","wl":7.78,"logF":2.58},{"planet":"GJ 1132b","wl":8.0,"logF":2.55},{"planet":"GJ 1132b","wl":8.29,"logF":2.65},{"planet":"GJ 1132b","wl":8.5,"logF":2.62},{"planet":"GJ 1132b","wl":8.8,"logF":2.7},{"planet":"GJ 1132b","wl":9.3,"logF":2.66},{"planet":"GJ 1132b","wl":9.8,"logF":2.63},{"planet":"GJ 1132b","wl":10.2,"logF":2.55},{"planet":"GJ 1132b","wl":10.6,"logF":2.46},{"planet":"GJ 1132b","wl":11.3,"logF":2.51},{"planet":"GJ 1132b","wl":11.8,"logF":2.42},{"planet":"GJ 1132b","wl":12.34,"logF":2.35},{"planet":"GJ 1132b","wl":12.85,"logF":2.16},{"planet":"GJ 1132b","wl":13.3,"logF":1.95},{"planet":"GJ 1132b","wl":13.7,"logF":1.71},{"planet":"GJ 1132b","wl":14.44,"logF":1.64},{"planet":"GJ 1132b","wl":15.2,"logF":1.6},{"planet":"GJ 1132b","wl":15.88,"logF":1.59},{"planet":"GJ 1132b","wl":16.5,"logF":1.62},{"planet":"GJ 1132b","wl":17.3,"logF":1.56},{"planet":"GJ 1132b","wl":18.0,"logF":1.58},{"planet":"GJ 1132b","wl":18.9,"logF":1.5},{"planet":"GJ 1132b","wl":19.8,"logF":1.45},{"planet":"GJ 1132b","wl":20.7,"logF":1.42},{"planet":"GJ 1132b","wl":21.8,"logF":1.35},{"planet":"GJ 1132b","wl":23.17,"logF":1.21},{"planet":"GJ 1132b","wl":24.5,"logF":1.15},{"planet":"GJ 1132b","wl":26.28,"logF":1.0},{"planet":"GJ 1132b","wl":28.0,"logF":0.92},{"planet":"GJ 1132b","wl":30,"logF":0.81}
    ],
    "blackbody": [
      {"planet":"TRAPPIST-1b","wl":1.14,"logF":-4.3},{"planet":"TRAPPIST-1b","wl":1.16,"logF":-3.93},{"planet":"TRAPPIST-1b","wl":1.35,"logF":-2.51},{"planet":"TRAPPIST-1b","wl":1.56,"logF":-1.49},{"planet":"TRAPPIST-1b","wl":1.73,"logF":-0.78},{"planet":"TRAPPIST-1b","wl":1.98,"logF":-0.07},{"planet":"TRAPPIST-1b","wl":2.29,"logF":0.52},{"planet":"TRAPPIST-1b","wl":2.551,"logF":0.88},{"planet":"TRAPPIST-1b","wl":2.83,"logF":1.16},{"planet":"TRAPPIST-1b","wl":3.15,"logF":1.47},{"planet":"TRAPPIST-1b","wl":3.5,"logF":1.71},{"planet":"TRAPPIST-1b","wl":4.14,"logF":1.99},{"planet":"TRAPPIST-1b","wl":4.79,"logF":2.18},{"planet":"TRAPPIST-1b","wl":5.9,"logF":2.3},{"planet":"TRAPPIST-1b","wl":7.0,"logF":2.35},{"planet":"TRAPPIST-1b","wl":8.1,"logF":2.32},{"planet":"TRAPPIST-1b","wl":9.96,"logF":2.25},{"planet":"TRAPPIST-1b","wl":12.34,"logF":2.11},{"planet":"TRAPPIST-1b","wl":15.2,"logF":1.87},{"planet":"TRAPPIST-1b","wl":18.9,"logF":1.59},{"planet":"TRAPPIST-1b","wl":23.17,"logF":1.25},{"planet":"TRAPPIST-1b","wl":26.3,"logF":1.05},{"planet":"TRAPPIST-1b","wl":30,"logF":0.81},
      {"planet":"TRAPPIST-1c","wl":1.45,"logF":-4.3},{"planet":"TRAPPIST-1c","wl":1.455,"logF":-3.93},{"planet":"TRAPPIST-1c","wl":1.65,"logF":-2.7},{"planet":"TRAPPIST-1c","wl":1.862,"logF":-1.64},{"planet":"TRAPPIST-1c","wl":2.05,"logF":-1.05},{"planet":"TRAPPIST-1c","wl":2.3,"logF":-0.55},{"planet":"TRAPPIST-1c","wl":2.83,"logF":0.26},{"planet":"TRAPPIST-1c","wl":3.5,"logF":0.88},{"planet":"TRAPPIST-1c","wl":4.14,"logF":1.33},{"planet":"TRAPPIST-1c","wl":4.79,"logF":1.58},{"planet":"TRAPPIST-1c","wl":5.5,"logF":1.75},{"planet":"TRAPPIST-1c","wl":6.57,"logF":1.9},{"planet":"TRAPPIST-1c","wl":8.1,"logF":1.95},{"planet":"TRAPPIST-1c","wl":9.9,"logF":1.94},{"planet":"TRAPPIST-1c","wl":12.34,"logF":1.87},{"planet":"TRAPPIST-1c","wl":13.7,"logF":1.71},{"planet":"TRAPPIST-1c","wl":16.9,"logF":1.47},{"planet":"TRAPPIST-1c","wl":20.9,"logF":1.24},{"planet":"TRAPPIST-1c","wl":24.7,"logF":0.97},{"planet":"TRAPPIST-1c","wl":30,"logF":0.69},
      {"planet":"TRAPPIST-1d","wl":1.7,"logF":-4.3},{"planet":"TRAPPIST-1d","wl":1.72,"logF":-4.0},{"planet":"TRAPPIST-1d","wl":1.862,"logF":-3.29},{"planet":"TRAPPIST-1d","wl":2.046,"logF":-2.56},{"planet":"TRAPPIST-1d","wl":2.3,"logF":-1.82},{"planet":"TRAPPIST-1d","wl":2.551,"logF":-1.21},{"planet":"TRAPPIST-1d","wl":2.83,"logF":-0.78},{"planet":"TRAPPIST-1d","wl":3.15,"logF":-0.31},{"planet":"TRAPPIST-1d","wl":3.5,"logF":0.09},{"planet":"TRAPPIST-1d","wl":3.97,"logF":0.43},{"planet":"TRAPPIST-1d","wl":4.41,"logF":0.64},{"planet":"TRAPPIST-1d","wl":5.1,"logF":0.95},{"planet":"TRAPPIST-1d","wl":6.57,"logF":1.35},{"planet":"TRAPPIST-1d","wl":8.45,"logF":1.47},{"planet":"TRAPPIST-1d","wl":9.9,"logF":1.52},{"planet":"TRAPPIST-1d","wl":12.34,"logF":1.52},{"planet":"TRAPPIST-1d","wl":13.7,"logF":1.4},{"planet":"TRAPPIST-1d","wl":16.9,"logF":1.21},{"planet":"TRAPPIST-1d","wl":20.9,"logF":1.0},{"planet":"TRAPPIST-1d","wl":24.7,"logF":0.81},{"planet":"TRAPPIST-1d","wl":30,"logF":0.62},
      {"planet":"TRAPPIST-1e","wl":2.35,"logF":-4.3},{"planet":"TRAPPIST-1e","wl":2.4,"logF":-3.95},{"planet":"TRAPPIST-1e","wl":2.551,"logF":-3.5},{"planet":"TRAPPIST-1e","wl":2.83,"logF":-2.85},{"planet":"TRAPPIST-1e","wl":3.15,"logF":-2.2},{"planet":"TRAPPIST-1e","wl":3.5,"logF":-1.62},{"planet":"TRAPPIST-1e","wl":4.14,"logF":-0.92},{"planet":"TRAPPIST-1e","wl":4.79,"logF":-0.3},{"planet":"TRAPPIST-1e","wl":5.79,"logF":0.17},{"planet":"TRAPPIST-1e","wl":7.0,"logF":0.52},{"planet":"TRAPPIST-1e","wl":8.45,"logF":0.78},{"planet":"TRAPPIST-1e","wl":10.2,"logF":0.98},{"planet":"TRAPPIST-1e","wl":12.34,"logF":1.07},{"planet":"TRAPPIST-1e","wl":14.9,"logF":1.08},{"planet":"TRAPPIST-1e","wl":18.8,"logF":0.94},{"planet":"TRAPPIST-1e","wl":23.17,"logF":0.76},{"planet":"TRAPPIST-1e","wl":30,"logF":0.5},
      {"planet":"TRAPPIST-1f","wl":2.9,"logF":-4.3},{"planet":"TRAPPIST-1f","wl":3.15,"logF":-3.66},{"planet":"TRAPPIST-1f","wl":3.5,"logF":-3.01},{"planet":"TRAPPIST-1f","wl":4.22,"logF":-1.91},{"planet":"TRAPPIST-1f","wl":4.79,"logF":-1.46},{"planet":"TRAPPIST-1f","wl":5.21,"logF":-1.01},{"planet":"TRAPPIST-1f","wl":5.79,"logF":-0.56},{"planet":"TRAPPIST-1f","wl":6.57,"logF":-0.11},{"planet":"TRAPPIST-1f","wl":7.94,"logF":0.27},{"planet":"TRAPPIST-1f","wl":9.77,"logF":0.52},{"planet":"TRAPPIST-1f","wl":12.34,"logF":0.66},{"planet":"TRAPPIST-1f","wl":14.9,"logF":0.7},{"planet":"TRAPPIST-1f","wl":19.2,"logF":0.62},{"planet":"TRAPPIST-1f","wl":23.5,"logF":0.5},{"planet":"TRAPPIST-1f","wl":30,"logF":0.3},
      {"planet":"TRAPPIST-1g","wl":2.92,"logF":-4.3},{"planet":"TRAPPIST-1g","wl":3.15,"logF":-3.72},{"planet":"TRAPPIST-1g","wl":3.5,"logF":-3.07},{"planet":"TRAPPIST-1g","wl":4.22,"logF":-1.97},{"planet":"TRAPPIST-1g","wl":4.79,"logF":-1.52},{"planet":"TRAPPIST-1g","wl":5.21,"logF":-1.07},{"planet":"TRAPPIST-1g","wl":5.79,"logF":-0.62},{"planet":"TRAPPIST-1g","wl":6.57,"logF":-0.17},{"planet":"TRAPPIST-1g","wl":7.94,"logF":0.21},{"planet":"TRAPPIST-1g","wl":9.77,"logF":0.46},{"planet":"TRAPPIST-1g","wl":12.34,"logF":0.6},{"planet":"TRAPPIST-1g","wl":14.9,"logF":0.64},{"planet":"TRAPPIST-1g","wl":19.2,"logF":0.56},{"planet":"TRAPPIST-1g","wl":23.5,"logF":0.44},{"planet":"TRAPPIST-1g","wl":30,"logF":0.24},
      {"planet":"TRAPPIST-1h","wl":3.03,"logF":-4.3},{"planet":"TRAPPIST-1h","wl":3.39,"logF":-3.2},{"planet":"TRAPPIST-1h","wl":3.61,"logF":-2.7},{"planet":"TRAPPIST-1h","wl":3.87,"logF":-2.3},{"planet":"TRAPPIST-1h","wl":4.22,"logF":-1.92},{"planet":"TRAPPIST-1h","wl":4.59,"logF":-1.62},{"planet":"TRAPPIST-1h","wl":5.21,"logF":-1.15},{"planet":"TRAPPIST-1h","wl":5.79,"logF":-0.76},{"planet":"TRAPPIST-1h","wl":6.43,"logF":-0.42},{"planet":"TRAPPIST-1h","wl":7.94,"logF":0.02},{"planet":"TRAPPIST-1h","wl":9.77,"logF":0.28},{"planet":"TRAPPIST-1h","wl":12.34,"logF":0.45},{"planet":"TRAPPIST-1h","wl":15.5,"logF":0.5},{"planet":"TRAPPIST-1h","wl":19.2,"logF":0.45},{"planet":"TRAPPIST-1h","wl":23.5,"logF":0.33},{"planet":"TRAPPIST-1h","wl":30,"logF":0.19},
      {"planet":"LHS 1140b","wl":2.88,"logF":-4.3},{"planet":"LHS 1140b","wl":3.15,"logF":-3.6},{"planet":"LHS 1140b","wl":3.5,"logF":-2.95},{"planet":"LHS 1140b","wl":4.22,"logF":-1.85},{"planet":"LHS 1140b","wl":4.79,"logF":-1.4},{"planet":"LHS 1140b","wl":5.21,"logF":-0.95},{"planet":"LHS 1140b","wl":5.79,"logF":-0.5},{"planet":"LHS 1140b","wl":6.57,"logF":-0.05},{"planet":"LHS 1140b","wl":7.94,"logF":0.33},{"planet":"LHS 1140b","wl":9.77,"logF":0.58},{"planet":"LHS 1140b","wl":12.34,"logF":0.72},{"planet":"LHS 1140b","wl":14.9,"logF":0.76},{"planet":"LHS 1140b","wl":19.2,"logF":0.68},{"planet":"LHS 1140b","wl":23.5,"logF":0.56},{"planet":"LHS 1140b","wl":30,"logF":0.36},
      {"planet":"GJ 1132b","wl":0.8,"logF":-2.63},{"planet":"GJ 1132b","wl":0.874,"logF":-1.82},{"planet":"GJ 1132b","wl":0.948,"logF":-1.09},{"planet":"GJ 1132b","wl":1.089,"logF":-0.07},{"planet":"GJ 1132b","wl":1.29,"logF":0.81},{"planet":"GJ 1132b","wl":1.493,"logF":1.52},{"planet":"GJ 1132b","wl":1.74,"logF":1.99},{"planet":"GJ 1132b","wl":1.983,"logF":2.39},{"planet":"GJ 1132b","wl":2.249,"logF":2.68},{"planet":"GJ 1132b","wl":2.551,"logF":2.87},{"planet":"GJ 1132b","wl":2.894,"logF":3.01},{"planet":"GJ 1132b","wl":3.497,"logF":3.13},{"planet":"GJ 1132b","wl":4.225,"logF":3.2},{"planet":"GJ 1132b","wl":4.79,"logF":3.23},{"planet":"GJ 1132b","wl":5.53,"logF":3.18},{"planet":"GJ 1132b","wl":6.57,"logF":3.1},{"planet":"GJ 1132b","wl":8.1,"logF":2.99},{"planet":"GJ 1132b","wl":9.96,"logF":2.82},{"planet":"GJ 1132b","wl":12.34,"logF":2.58},{"planet":"GJ 1132b","wl":15.2,"logF":2.25},{"planet":"GJ 1132b","wl":18.8,"logF":1.9},{"planet":"GJ 1132b","wl":23.17,"logF":1.52},{"planet":"GJ 1132b","wl":30,"logF":1.1}
    ]
  },
  "layer": [
    {
      "data": {"name": "blackbody"},
      "mark": {"type": "line", "strokeWidth": 1, "strokeDash": [4, 3], "opacity": 0.45, "clip": true},
      "encoding": {
        "x": {"field": "wl", "type": "quantitative", "scale": {"type": "log", "domain": [0.8, 30], "nice": false},
              "axis": {"orient": "top", "values": [0.8, 1, 1.5, 2, 3, 5, 7, 10, 20, 30], "labels": false, "tickSize": -7, "title": null}},
        "y": {"field": "logF", "type": "quantitative", "scale": {"domain": [-4, 4.49], "nice": false, "zero": false},
              "axis": {"orient": "right", "values": [-4, -3, -2, -1, 0, 1, 2, 3, 4], "labels": false, "tickSize": -7, "title": null}},
        "color": {"field": "planet", "type": "nominal",
                  "scale": {"domain": ["TRAPPIST-1b", "LHS 1140b", "TRAPPIST-1h", "TRAPPIST-1e", "TRAPPIST-1c", "GJ 1132b", "TRAPPIST-1g", "TRAPPIST-1f", "TRAPPIST-1d"],
                            "range": ["#ff0000", "#0000ff", "#000000", "#00bfff", "#ff8c00", "#a52a2a", "#ff69b4", "#9400d3", "#32cd32"]}}
      }
    },
    {
      "data": {"name": "spectra"},
      "mark": {"type": "line", "strokeWidth": 1.2, "clip": true},
      "encoding": {
        "x": {"field": "wl", "type": "quantitative", "scale": {"type": "log", "domain": [0.8, 30], "nice": false},
              "axis": {"orient": "bottom", "values": [0.8, 1, 1.5, 2, 3, 5, 7, 10, 20, 30], "tickSize": -7, "labelPadding": 11,
                       "labelExpr": "datum.value == 1 ? '1.0' : format(datum.value, '~g')", "title": "wavelength (μm)", "titlePadding": 3}},
        "y": {"field": "logF", "type": "quantitative", "scale": {"domain": [-4, 4.49], "nice": false, "zero": false},
              "axis": {"orient": "left", "values": [-4, -3, -2, -1, 0, 1, 2, 3, 4], "tickSize": -7, "labelPadding": 12,
                       "labelExpr": "datum.value == -4 ? '10⁻⁴' : datum.value == -3 ? '10⁻³' : datum.value == -2 ? '10⁻²' : datum.value == -1 ? '10⁻¹' : datum.value == 0 ? '10⁰' : datum.value == 1 ? '10¹' : datum.value == 2 ? '10²' : datum.value == 3 ? '10³' : '10⁴'",
                       "title": "flux (W/m² /μm)", "titlePadding": 5}},
        "color": {"field": "planet", "type": "nominal",
                  "scale": {"domain": ["TRAPPIST-1b", "LHS 1140b", "TRAPPIST-1h", "TRAPPIST-1e", "TRAPPIST-1c", "GJ 1132b", "TRAPPIST-1g", "TRAPPIST-1f", "TRAPPIST-1d"],
                            "range": ["#ff0000", "#0000ff", "#000000", "#00bfff", "#ff8c00", "#a52a2a", "#ff69b4", "#9400d3", "#32cd32"]}}
      }
    },
    {
      "data": {"name": "blackbody"},
      "mark": {"type": "point", "opacity": 0},
      "encoding": {
        "x": {"field": "wl", "type": "quantitative", "scale": {"type": "log", "domain": [0.8, 30], "nice": false},
              "axis": {"orient": "bottom", "values": [0.9, 4, 6, 8, 9], "labels": false, "tickSize": -3.5, "title": null}},
        "y": {"field": "logF", "type": "quantitative", "scale": {"domain": [-4, 4.49], "nice": false, "zero": false},
              "axis": {"orient": "left", "labels": false, "tickSize": -3.5, "title": null,
                       "values": [-3.699,-3.523,-3.398,-3.301,-3.222,-3.155,-3.097,-3.046,-2.699,-2.523,-2.398,-2.301,-2.222,-2.155,-2.097,-2.046,-1.699,-1.523,-1.398,-1.301,-1.222,-1.155,-1.097,-1.046,-0.699,-0.523,-0.398,-0.301,-0.222,-0.155,-0.097,-0.046,0.301,0.477,0.602,0.699,0.778,0.845,0.903,0.954,1.301,1.477,1.602,1.699,1.778,1.845,1.903,1.954,2.301,2.477,2.602,2.699,2.778,2.845,2.903,2.954,3.301,3.477,3.602,3.699,3.778,3.845,3.903,3.954,4.301,4.477]}}
      }
    },
    {
      "data": {"name": "blackbody"},
      "mark": {"type": "point", "opacity": 0},
      "encoding": {
        "x": {"field": "wl", "type": "quantitative", "scale": {"type": "log", "domain": [0.8, 30], "nice": false},
              "axis": {"orient": "top", "values": [0.9, 4, 6, 8, 9], "labels": false, "tickSize": -3.5, "title": null}},
        "y": {"field": "logF", "type": "quantitative", "scale": {"domain": [-4, 4.49], "nice": false, "zero": false},
              "axis": {"orient": "right", "labels": false, "tickSize": -3.5, "title": null,
                       "values": [-3.699,-3.523,-3.398,-3.301,-3.222,-3.155,-3.097,-3.046,-2.699,-2.523,-2.398,-2.301,-2.222,-2.155,-2.097,-2.046,-1.699,-1.523,-1.398,-1.301,-1.222,-1.155,-1.097,-1.046,-0.699,-0.523,-0.398,-0.301,-0.222,-0.155,-0.097,-0.046,0.301,0.477,0.602,0.699,0.778,0.845,0.903,0.954,1.301,1.477,1.602,1.699,1.778,1.845,1.903,1.954,2.301,2.477,2.602,2.699,2.778,2.845,2.903,2.954,3.301,3.477,3.602,3.699,3.778,3.845,3.903,3.954,4.301,4.477]}}
      }
    }
  ],
  "resolve": {"axis": {"x": "independent", "y": "independent"}}
}
